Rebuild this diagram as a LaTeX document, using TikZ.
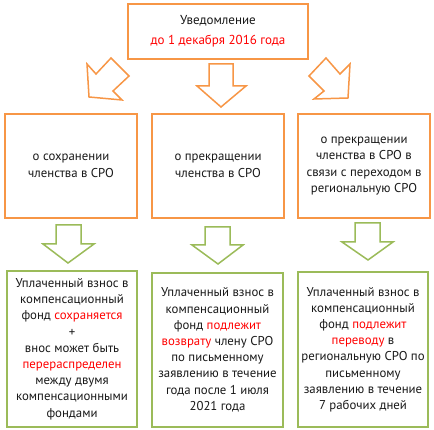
\documentclass[tikz,border=0pt]{standalone}
\usepackage{fontspec}
\setmainfont{PT Sans}
\definecolor{orng}{HTML}{F79646}
\definecolor{grn}{HTML}{9BBB59}
\definecolor{rd}{HTML}{FF0000}
\newcommand{\rt}[1]{\textcolor{rd}{#1}}
\begin{document}
\begin{tikzpicture}[x=1pt,y=-1pt,
  basebox/.style={line width=1.5pt, fill=white, inner sep=0pt, align=center, text=black!90},
  obox/.style={basebox, draw=orng, font=\fontsize{12.8}{16.4}\selectfont},
  gbox/.style={basebox, draw=grn, font=\fontsize{12.8}{16.2}\selectfont},
  oarrow/.style={draw=orng, line width=1.5pt, line join=miter, fill=white},
  garrow/.style={draw=grn, line width=1.5pt, line join=miter, fill=white}]
\useasboundingbox (0,0) rectangle (434,430);

% top box
\node[obox, minimum width=180pt, minimum height=55pt, font=\fontsize{13}{20}\selectfont] (top) at (218,31.5)
  {Уведомление\\\rt{до 1 декабря 2016 года}};

% orange arrows
\draw[oarrow] (87,64) -- (96,74) -- (111,58) -- (129,76) -- (113,91) -- (122,100) -- (89,97) -- cycle;
\draw[oarrow] (209,64) -- (233,64) -- (233,86) -- (246,86) -- (221,107) -- (197,86) -- (209,86) -- cycle;
\draw[oarrow] (350,64) -- (340,74) -- (326,58) -- (309,76) -- (324,91) -- (314,99) -- (348,98) -- cycle;

% middle boxes
\node[obox, minimum width=132pt, minimum height=104pt] (m1) at (71,166)
  {о сохранении\\членства в СРО};
\node[obox, minimum width=132pt, minimum height=104pt] (m2) at (218,166)
  {о прекращении\\членства в СРО};
\node[obox, minimum width=132pt, minimum height=104pt] (m3) at (364,166)
  {о прекращении\\членства в СРО в\\связи с переходом в\\региональную СРО};

% green arrows
\draw[garrow] (56,225) -- (81,225) -- (81,244) -- (94,244) -- (68,263) -- (43,244) -- (56,244) -- cycle;
\draw[garrow] (205,227) -- (230,227) -- (230,245) -- (243,245) -- (218,264) -- (192,245) -- (205,245) -- cycle;
\draw[garrow] (355,223) -- (380,223) -- (380,242) -- (393,242) -- (368,260) -- (342,242) -- (355,242) -- cycle;

% bottom boxes
\node[gbox, minimum width=130pt, minimum height=156pt] (b1) at (72,349)
  {Уплаченный взнос в\\компенсационный\\фонд \rt{сохраняется}\\+\\внос может быть\\\rt{перераспределен}\\между двумя\\компенсационными\\фондами};
\node[gbox, minimum width=131pt, minimum height=154pt] (b2) at (217.5,350)
  {Уплаченный взнос в\\компенсационный\\фонд \rt{подлежит}\\\rt{возврату} члену СРО\\по письменному\\заявлению в течение\\года после 1 июля\\2021 года};
\node[gbox, minimum width=130pt, minimum height=155pt] (b3) at (363,349.5)
  {Уплаченный взнос в\\компенсационный\\фонд \rt{подлежит}\\\rt{переводу} в\\региональную СРО по\\письменному\\заявлению в течение\\7 рабочих дней};
\end{tikzpicture}
\end{document}
